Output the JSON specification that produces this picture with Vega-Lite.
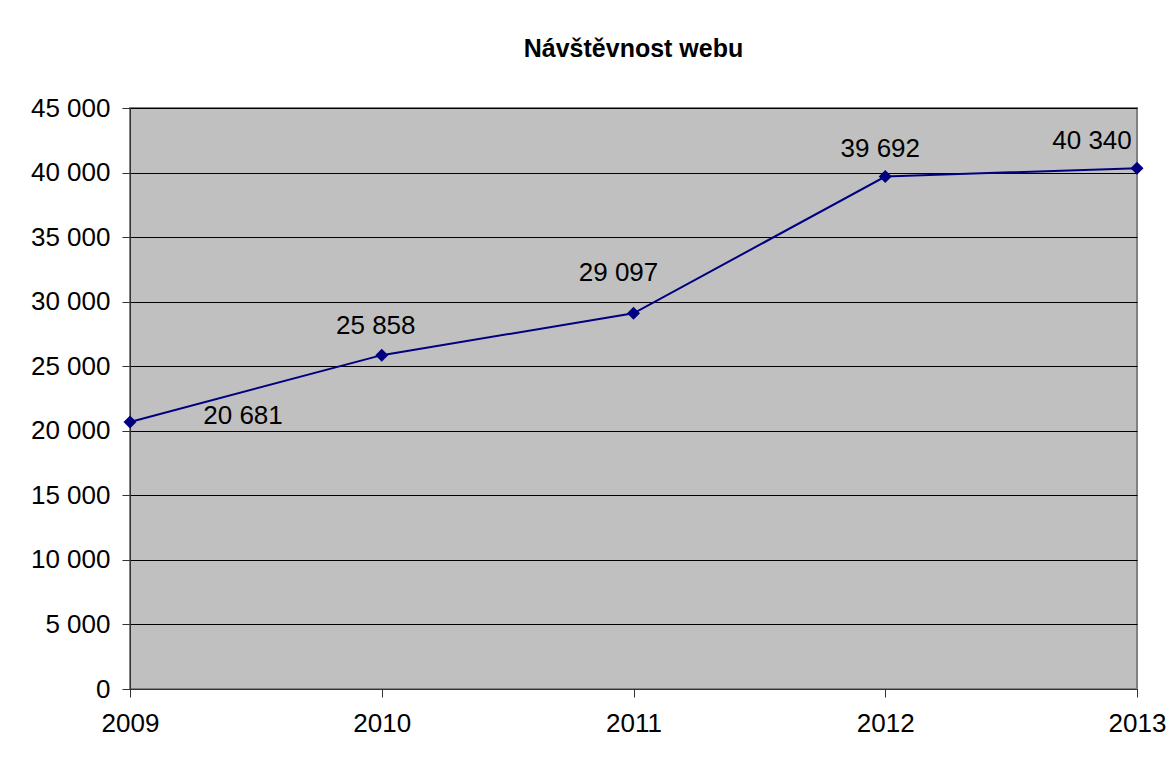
{
  "$schema": "https://vega.github.io/schema/vega-lite/v6.json",
  "width": 1007,
  "height": 581,
  "autosize": {"type": "none"},
  "padding": {"left": 130, "top": 108, "right": 39, "bottom": 75},
  "background": "white",
  "title": {
    "text": "Návštěvnost webu",
    "font": "Liberation Sans",
    "fontSize": 25,
    "fontWeight": "bold",
    "color": "black",
    "anchor": "middle",
    "offset": 33
  },
  "config": {
    "locale": {"number": {"decimal": ",", "thousands": " ", "grouping": [3], "currency": ["", ""]}},
    "view": {"fill": "#C0C0C0", "stroke": "#808080", "strokeWidth": 2},
    "font": "Liberation Sans"
  },
  "data": {
    "values": [
      {"year": "2009", "visits": 20681},
      {"year": "2010", "visits": 25858},
      {"year": "2011", "visits": 29097},
      {"year": "2012", "visits": 39692},
      {"year": "2013", "visits": 40340}
    ]
  },
  "encoding": {
    "x": {
      "field": "year", "type": "ordinal",
      "scale": {"type": "point", "padding": 0},
      "axis": {"title": null, "labelAngle": 0, "labelFontSize": 26, "labelColor": "black", "labelPadding": 13,
               "labelFont": "Liberation Sans",
               "tickColor": "#333", "tickSize": 8, "domainColor": "#333", "grid": false}
    },
    "y": {
      "field": "visits", "type": "quantitative",
      "scale": {"domain": [0, 45000], "nice": false},
      "axis": {"title": null, "values": [0,5000,10000,15000,20000,25000,30000,35000,40000,45000],
               "format": ",.0f", "labelFontSize": 26, "labelColor": "black", "labelPadding": 12,
               "labelFont": "Liberation Sans",
               "tickColor": "#333", "tickSize": 8, "domainColor": "#333",
               "grid": true, "gridColor": "black", "gridWidth": 1, "gridOpacity": 1}
    }
  },
  "layer": [
    {"mark": {"type": "line", "color": "#000080", "strokeWidth": 2}},
    {"mark": {"type": "point", "shape": "diamond", "filled": true, "color": "#000080", "size": 170, "opacity": 1}},
    {"transform": [{"filter": "datum.year == '2009'"}],
     "mark": {"type": "text", "fontSize": 26, "color": "black", "dx": 113, "dy": -6},
     "encoding": {"text": {"field": "visits", "type": "quantitative", "format": ",.0f"}}},
    {"transform": [{"filter": "datum.year == '2010'"}],
     "mark": {"type": "text", "fontSize": 26, "color": "black", "dx": -6, "dy": -29},
     "encoding": {"text": {"field": "visits", "type": "quantitative", "format": ",.0f"}}},
    {"transform": [{"filter": "datum.year == '2011'"}],
     "mark": {"type": "text", "fontSize": 26, "color": "black", "dx": -15, "dy": -40},
     "encoding": {"text": {"field": "visits", "type": "quantitative", "format": ",.0f"}}},
    {"transform": [{"filter": "datum.year == '2012'"}],
     "mark": {"type": "text", "fontSize": 26, "color": "black", "dx": -5, "dy": -28},
     "encoding": {"text": {"field": "visits", "type": "quantitative", "format": ",.0f"}}},
    {"transform": [{"filter": "datum.year == '2013'"}],
     "mark": {"type": "text", "fontSize": 26, "color": "black", "dx": -45, "dy": -27},
     "encoding": {"text": {"field": "visits", "type": "quantitative", "format": ",.0f"}}}
  ]
}
